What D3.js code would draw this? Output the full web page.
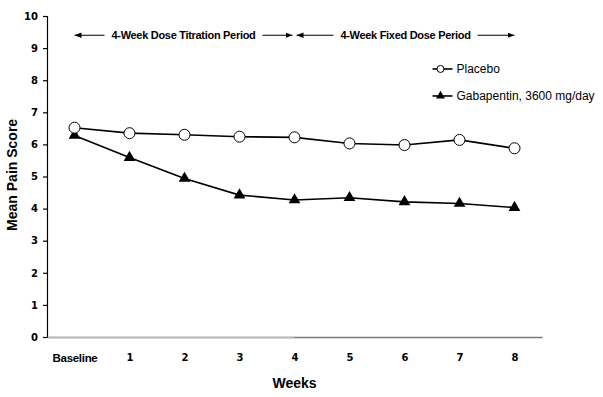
<!DOCTYPE html>
<html>
<head>
<meta charset="utf-8">
<script src="https://cdn.jsdelivr.net/npm/d3@7"></script>
<style>
    body { margin: 0; background: #fff; }
    .tick-label { font-family: "DejaVu Sans", Verdana, sans-serif; font-weight: bold; font-size: 10px; }
    .axis-title { font-family: "Liberation Sans", Arial, sans-serif; font-weight: bold; font-size: 14px; }
    .cat-label { font-family: "Liberation Sans", Arial, sans-serif; font-weight: bold; font-size: 11.5px; letter-spacing: -0.3px; }
    .period-label { font-family: "Liberation Sans", Arial, sans-serif; font-weight: bold; font-size: 11px; letter-spacing: -0.3px; }
    .legend-label { font-family: "Liberation Sans", Arial, sans-serif; font-size: 12px; }
</style>
</head>
<body>
<div id="chart"></div>
<script>
// Data
const weeks = ["Baseline", "1", "2", "3", "4", "5", "6", "7", "8"];
const placebo = [6.52, 6.35, 6.30, 6.24, 6.22, 6.03, 5.98, 6.14, 5.88];
const gabapentin = [6.28, 5.59, 4.94, 4.42, 4.27, 4.34, 4.21, 4.16, 4.03];
const yTicks = [0, 1, 2, 3, 4, 5, 6, 7, 8, 9, 10];
const periods = [
    { label: "4-Week Dose Titration Period", start: "Baseline", end: "4" },
    { label: "4-Week Fixed Dose Period", start: "4", end: "8" }
];
const seriesNames = ["Placebo", "Gabapentin, 3600 mg/day"];

let margin = { top: 16, right: 61, bottom: 60, left: 47 };
let width = 603 - margin.left - margin.right;
let height = 397 - margin.top - margin.bottom;

let svg = d3.select("#chart").append("svg")
    .attr("width", 603)
    .attr("height", 397)
    .append("g")
    .attr("transform", "translate(" + margin.left + "," + margin.top + ")");

// Scales
let x = d3.scalePoint()
    .domain(weeks)
    .range([0, width])
    .padding(0.5);

let y = d3.scaleLinear()
    .domain([0, 10])
    .range([height, 0]);

// Y axis
let yAxis = svg.append("g")
    .attr("class", "y-axis")
    .call(d3.axisLeft(y).tickValues(yTicks).tickSize(4).tickPadding(5));
yAxis.select(".domain").attr("stroke", "#000").attr("stroke-width", 1.2);
yAxis.selectAll(".tick line").attr("stroke", "#000").attr("stroke-width", 1.2);
yAxis.selectAll(".tick text").attr("class", "tick-label").attr("fill", "#000");

// X axis
let xAxis = svg.append("g")
    .attr("class", "x-axis")
    .attr("transform", "translate(0," + height + ")")
    .call(d3.axisBottom(x).tickSize(0).tickPadding(17));
xAxis.select(".domain").attr("stroke", "#777").attr("stroke-width", 1.5);
xAxis.selectAll(".tick text")
    .attr("class", d => d === "Baseline" ? "cat-label" : "tick-label")
    .attr("fill", "#000");

// the scanned axis is lighter over the titration weeks
xAxis.append("line")
    .attr("x1", 1).attr("x2", x("4"))
    .attr("y1", 0.5).attr("y2", 0.5)
    .attr("stroke", "#bbb")
    .attr("stroke-width", 1.5);

// Axis titles
svg.append("text")
    .attr("class", "axis-title")
    .attr("transform", "rotate(-90)")
    .attr("x", -y(5.05))
    .attr("y", -30)
    .attr("text-anchor", "middle")
    .text("Mean Pain Score");

svg.append("text")
    .attr("class", "axis-title")
    .attr("x", x("4"))
    .attr("y", height + 51)
    .attr("text-anchor", "middle")
    .text("Weeks");

// Arrow markers
let defs = svg.append("defs");
defs.append("marker")
    .attr("id", "arrow")
    .attr("viewBox", "0 0 10 10")
    .attr("refX", 10)
    .attr("refY", 5)
    .attr("markerWidth", 7)
    .attr("markerHeight", 7)
    .attr("orient", "auto-start-reverse")
    .append("path")
    .attr("d", "M0,1 L10,5 L0,9 Z")
    .attr("fill", "#000");

// Period annotations
let periodY = y(9.4);
periods.forEach(function (p, i) {
    let x0 = x(p.start) + (i === 0 ? 0 : 2);
    let x1 = x(p.end) - (i === 0 ? 2 : 0);
    let mid = (x0 + x1) / 2;
    let label = svg.append("text")
        .attr("class", "period-label")
        .attr("x", mid)
        .attr("y", periodY + 4)
        .attr("text-anchor", "middle")
        .text(p.label);
    let w = label.node().getComputedTextLength();
    svg.append("line")
        .attr("x1", mid - w / 2 - 7).attr("x2", x0)
        .attr("y1", periodY).attr("y2", periodY)
        .attr("stroke", "#000").attr("stroke-width", 1)
        .attr("marker-end", "url(#arrow)");
    svg.append("line")
        .attr("x1", mid + w / 2 + 7).attr("x2", x1)
        .attr("y1", periodY).attr("y2", periodY)
        .attr("stroke", "#000").attr("stroke-width", 1)
        .attr("marker-end", "url(#arrow)");
});

// Lines
let line = d3.line()
    .x((d, i) => x(weeks[i]))
    .y(d => y(d));

svg.append("path")
    .datum(gabapentin)
    .attr("fill", "none")
    .attr("stroke", "#000")
    .attr("stroke-width", 1.6)
    .attr("d", line);

svg.append("path")
    .datum(placebo)
    .attr("fill", "none")
    .attr("stroke", "#000")
    .attr("stroke-width", 1.6)
    .attr("d", line);

let triangle = d3.symbol().type(d3.symbolTriangle).size(60);

svg.selectAll(".gaba-point")
    .data(gabapentin)
    .enter().append("path")
    .attr("class", "gaba-point")
    .attr("transform", (d, i) => "translate(" + x(weeks[i]) + "," + y(d) + ")")
    .attr("d", triangle)
    .attr("fill", "#000");

svg.selectAll(".placebo-point")
    .data(placebo)
    .enter().append("circle")
    .attr("class", "placebo-point")
    .attr("cx", (d, i) => x(weeks[i]))
    .attr("cy", d => y(d))
    .attr("r", 5.5)
    .attr("fill", "#fff")
    .attr("stroke", "#000")
    .attr("stroke-width", 1);

// Legend
let legend = svg.append("g")
    .attr("transform", "translate(" + (x("7") - 27) + "," + y(8.35) + ")");

seriesNames.forEach(function (name, i) {
    let g = legend.append("g").attr("transform", "translate(0," + (i * 27) + ")");
    g.append("line")
        .attr("x1", 0).attr("x2", 20)
        .attr("stroke", "#000").attr("stroke-width", 1.6);
    if (i === 0) {
        g.append("circle")
            .attr("cx", 8).attr("r", 3.5)
            .attr("fill", "#fff").attr("stroke", "#000");
    } else {
        g.append("path")
            .attr("transform", "translate(8,0)")
            .attr("d", d3.symbol().type(d3.symbolTriangle).size(35))
            .attr("fill", "#000");
    }
    g.append("text")
        .attr("class", "legend-label")
        .attr("x", 24)
        .attr("y", 4.5)
        .text(name);
});
</script>
</body>
</html>
